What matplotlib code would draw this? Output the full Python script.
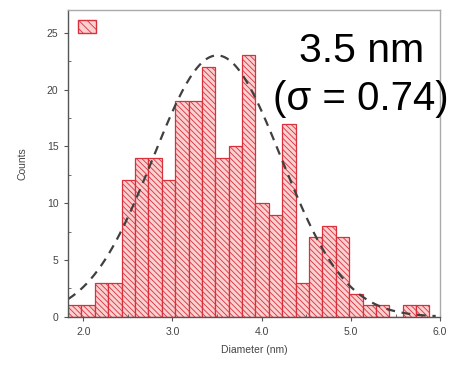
import numpy as np
import matplotlib
matplotlib.use("Agg")
import matplotlib.pyplot as plt
from matplotlib.patches import Patch
from matplotlib.ticker import MultipleLocator

plt.rcParams['font.family'] = ['Liberation Sans', 'DejaVu Sans']
plt.rcParams['hatch.color'] = '#d8303c'
plt.rcParams['hatch.linewidth'] = 0.6

# histogram bins (left edges, nm) and counts
bin_left = [1.83, 1.98, 2.13, 2.28, 2.43, 2.58, 2.73, 2.88, 3.03, 3.18,
            3.33, 3.48, 3.63, 3.78, 3.93, 4.08, 4.23, 4.38, 4.53, 4.68,
            4.83, 4.98, 5.13, 5.28, 5.43, 5.58, 5.73]
counts = [1, 1, 3, 3, 12, 14, 14, 12, 19, 19,
          22, 14, 15, 23, 10, 9, 17, 3, 7, 8,
          7, 2, 1, 1, 0, 1, 1]
bin_width = 0.15

# gaussian fit
fit_mean = 3.5
fit_sigma = 0.72
fit_amp = 23.0

fig = plt.figure(figsize=(4.51, 3.68), dpi=100)
ax = fig.add_axes([0.151, 0.139, 0.825, 0.834])

ax.bar(bin_left, counts, width=bin_width, align='edge', color='#fbd0d0',
       edgecolor='#d8303c', linewidth=0.9, hatch='\\\\\\\\\\\\')

xs = np.linspace(1.83, 5.95, 300)
ax.plot(xs, fit_amp * np.exp(-(xs - fit_mean) ** 2 / (2 * fit_sigma ** 2)),
        color='#404040', linestyle=(0, (4, 3)), linewidth=1.6)

# legend swatch without text
swatch = Patch(facecolor='#fbd0d0', edgecolor='#d8303c', hatch='\\\\\\\\')
ax.legend(handles=[swatch], labels=[''], loc='upper left', frameon=False,
          handlelength=1.3, handleheight=1.1, borderaxespad=0.3,
          handletextpad=0)

# annotation, two lines
ax.text(0.788, 0.831, "3.5 nm", transform=ax.transAxes,
        ha='center', va='baseline', fontsize=29.5, color='black', clip_on=False)
ax.text(0.788, 0.674, "(σ = 0.74)", transform=ax.transAxes,
        ha='center', va='baseline', fontsize=29, color='black', clip_on=False)

ax.set_xlim(1.83, 6.0)
ax.set_ylim(0, 27)
ax.set_xticks([2.0, 3.0, 4.0, 5.0, 6.0])
ax.set_xticklabels(['2.0', '3.0', '4.0', '5.0', '6.0'])
ax.set_yticks([0, 5, 10, 15, 20, 25])
ax.xaxis.set_minor_locator(MultipleLocator(0.5))
ax.yaxis.set_minor_locator(MultipleLocator(2.5))
ax.tick_params(which='major', direction='out', length=3, width=0.8,
               labelsize=7.5, labelcolor='#444444', color='#555555', pad=4)
ax.tick_params(which='minor', direction='in', length=2, width=0.6,
               color='#555555')

ax.set_xlabel("Diameter (nm)", fontsize=7.5, color='#444444', labelpad=6)
ax.set_ylabel("Counts", fontsize=7.5, color='#444444', labelpad=14)

ax.spines['left'].set_color('#555555')
ax.spines['bottom'].set_color('#555555')
ax.spines['top'].set_color('#aaaaaa')
ax.spines['right'].set_color('#aaaaaa')
for s in ax.spines.values():
    s.set_linewidth(1.0)

fig.savefig('out.png', dpi=100)
